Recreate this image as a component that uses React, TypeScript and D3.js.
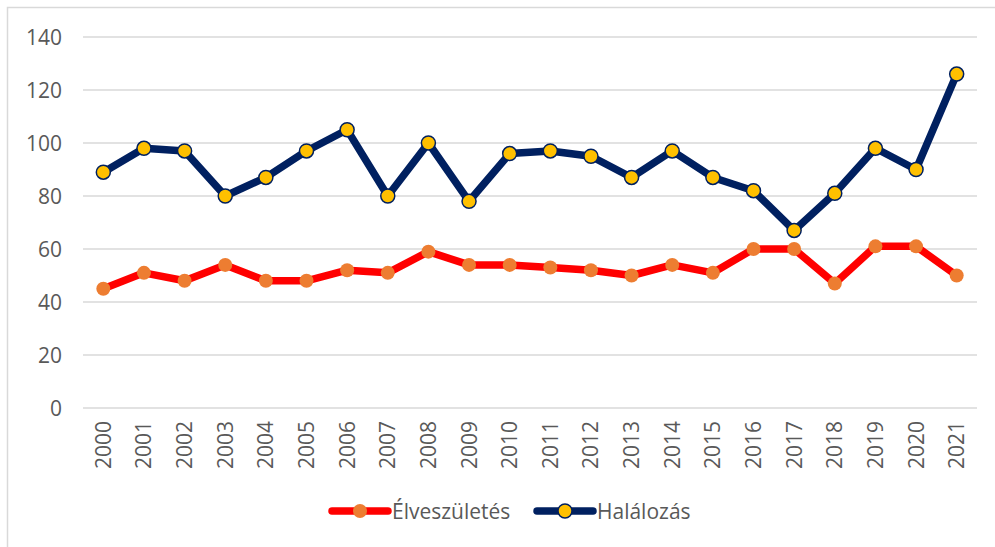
import React, { useEffect, useRef } from 'react';
import * as d3 from 'd3';

const years = ['2000', '2001', '2002', '2003', '2004', '2005', '2006', '2007', '2008', '2009', '2010',
  '2011', '2012', '2013', '2014', '2015', '2016', '2017', '2018', '2019', '2020', '2021'];
const births = [45, 51, 48, 54, 48, 48, 52, 51, 59, 54, 54, 53, 52, 50, 54, 51, 60, 60, 47, 61, 61, 50];
const deaths = [89, 98, 97, 80, 87, 97, 105, 80, 100, 78, 96, 97, 95, 87, 97, 87, 82, 67, 81, 98, 90, 126];
const yTicks = [0, 20, 40, 60, 80, 100, 120, 140];

const series = [
  { name: 'Élveszületés', values: births, line: '#ff0000', fill: '#ed7d31', stroke: 'none' },
  { name: 'Halálozás', values: deaths, line: '#002060', fill: '#ffc000', stroke: '#002060' },
];

const FONT = "'Open Sans', sans-serif";
const FONT_SIZE = 21;

export default function App() {
  const ref = useRef<SVGSVGElement>(null);

  useEffect(() => {
    const width = 995;
    const height = 547;
    const margin = { top: 37, right: 18, bottom: 139, left: 83 };

    const svg = d3.select(ref.current).attr('width', width).attr('height', height);
    svg.selectAll('*').remove();

    // chart border, cut off at right and bottom like the reference
    svg.append('rect')
      .attr('x', 7.5).attr('y', 7.5)
      .attr('width', width + 20).attr('height', height + 20)
      .attr('fill', 'white').attr('stroke', '#d9d9d9')
      .attr('stroke-width', 1.5);

    const x = d3.scaleBand().domain(years).range([margin.left, width - margin.right]);
    const y = d3.scaleLinear().domain([0, 140]).range([height - margin.bottom, margin.top]);

    // grid + y labels
    const g = svg.append('g');
    g.selectAll('line.grid')
      .data(yTicks)
      .enter()
      .append('line')
      .attr('x1', margin.left)
      .attr('x2', width - margin.right)
      .attr('y1', (d) => y(d))
      .attr('y2', (d) => y(d))
      .attr('stroke', '#d9d9d9')
      .attr('stroke-width', 1.5);

    g.selectAll('text.ylab')
      .data(yTicks)
      .enter()
      .append('text')
      .attr('x', 62)
      .attr('y', (d) => y(d))
      .attr('dy', '0.36em')
      .attr('text-anchor', 'end')
      .attr('font-family', FONT)
      .attr('font-size', FONT_SIZE)
      .attr('fill', '#595959')
      .text((d) => d);

    // x labels, rotated
    g.selectAll('text.xlab')
      .data(years)
      .enter()
      .append('text')
      .attr('transform', (d) => `translate(${x(d)! + x.bandwidth() / 2 + 7.5},${height - margin.bottom + 13}) rotate(-90)`)
      .attr('text-anchor', 'end')
      .attr('font-family', FONT)
      .attr('font-size', FONT_SIZE)
      .attr('fill', '#595959')
      .text((d) => d);

    const line = d3.line<number>()
      .x((_, i) => x(years[i])! + x.bandwidth() / 2)
      .y((d) => y(d));

    series.forEach((s) => {
      svg.append('path')
        .datum(s.values)
        .attr('d', line)
        .attr('fill', 'none')
        .attr('stroke', s.line)
        .attr('stroke-width', 7.5)
        .attr('stroke-linejoin', 'round')
        .attr('stroke-linecap', 'round');

      svg.append('g')
        .selectAll('circle')
        .data(s.values)
        .enter()
        .append('circle')
        .attr('cx', (_, i) => x(years[i])! + x.bandwidth() / 2)
        .attr('cy', (d) => y(d))
        .attr('r', 7)
        .attr('fill', s.fill)
        .attr('stroke', s.stroke)
        .attr('stroke-width', 1.5);
    });

    // legend
    const legend = svg.append('g').attr('transform', 'translate(0,511)');
    const legendX = [332, 537];
    series.forEach((s, i) => {
      const lg = legend.append('g').attr('transform', `translate(${legendX[i]},0)`);
      lg.append('line')
        .attr('x1', 0).attr('x2', 56)
        .attr('y1', 0).attr('y2', 0)
        .attr('stroke', s.line)
        .attr('stroke-width', 7.5)
        .attr('stroke-linecap', 'round');
      lg.append('circle')
        .attr('cx', 28).attr('cy', 0).attr('r', 7)
        .attr('fill', s.fill)
        .attr('stroke', s.stroke)
        .attr('stroke-width', 1.5);
      lg.append('text')
        .attr('x', 60)
        .attr('y', 0)
        .attr('dy', '0.36em')
        .attr('font-family', FONT)
        .attr('font-size', FONT_SIZE)
        .attr('fill', '#595959')
        .text(s.name);
    });
  }, []);

  return <svg ref={ref} style={{ position: 'absolute', left: 0, top: 0 }}></svg>;
}
